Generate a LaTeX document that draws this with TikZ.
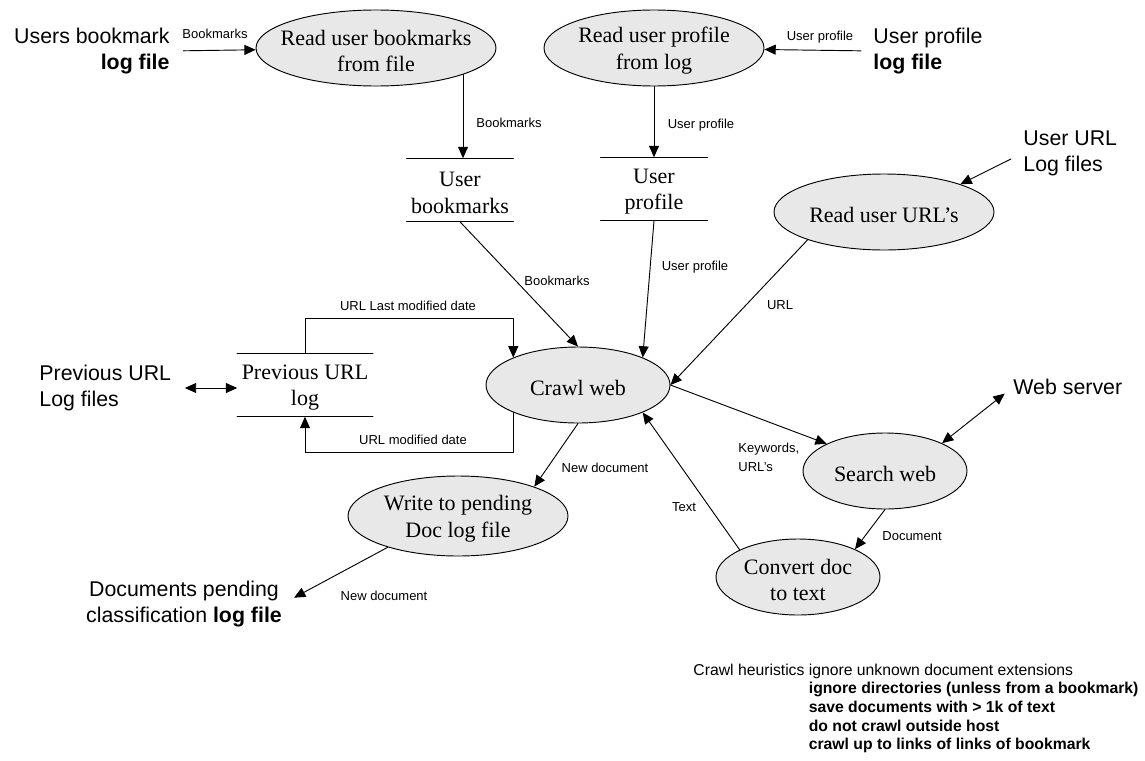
\documentclass[tikz,border=0pt]{standalone}
\usepackage{fontspec}
\setmainfont{Liberation Serif}
\setsansfont{Liberation Sans}
\usepackage{tikz}
\usetikzlibrary{arrows.meta,shapes.geometric}

\definecolor{procfill}{gray}{0.91}
\tikzset{
	proc/.style={ellipse, draw, fill=procfill, inner sep=0pt},
	proctext/.style={align=center, yshift=-2.2pt, font=\fontsize{16.5pt}{20pt}\selectfont},
	store/.style={rectangle, inner sep=0pt, align=center, minimum height=47pt, font=\fontsize{16.5pt}{20pt}\selectfont},
	storetext/.style={align=center, yshift=-2pt, font=\fontsize{16.5pt}{20pt}\selectfont},
	extfile/.style={inner sep=0pt, font=\sffamily\fontsize{16pt}{19.5pt}\selectfont},
	flowlbl/.style={inner sep=0pt, font=\sffamily\fontsize{9.75pt}{14.25pt}\selectfont},
}

\begin{document}
\begin{tikzpicture}[x=0.75pt, y=-0.75pt, >={Triangle[length=8.5pt,width=7.5pt]}, line width=0.7pt, line cap=round, line join=round]
	\useasboundingbox (0,0) rectangle (1145,760);
	
	% processes
	\node[proc, minimum width=180pt, minimum height=57pt, label={[proctext]center:Read user bookmarks\\from file}] (rbm) at (376,48) {};
	\node[proc, minimum width=165pt, minimum height=57pt, label={[proctext]center:Read user profile\\from log}] (rpr) at (654,48) {};
	\node[proc, minimum width=165pt, minimum height=57pt, label={[proctext]center:Read user URL’s}] (rurl) at (884,212) {};
	\node[proc, minimum width=138pt, minimum height=57pt, label={[proctext]center:Crawl web}] (crawl) at (578,385) {};
	\node[proc, minimum width=165pt, minimum height=60pt, label={[proctext]center:Write to pending\\Doc log file}] (write) at (458,516) {};
	\node[proc, minimum width=123pt, minimum height=57pt, label={[proctext]center:Search web}] (search) at (885,471) {};
	\node[proc, minimum width=123pt, minimum height=57pt, label={[proctext]center:Convert doc\\to text}] (convert) at (798,577) {};
	
	% data stores
	\node[store, minimum width=79.5pt, label={[storetext]center:User\\bookmarks}] (ubm) at (460,190) {};
	\node[store, minimum width=79.5pt, label={[storetext]center:User\\profile}] (upr) at (654,189) {};
	\node[store, minimum width=101pt, label={[storetext]center:Previous URL\\log}] (prev) at (305,385) {};
	\foreach \s in {ubm,upr,prev}
		\draw (\s.north west) -- (\s.north east) (\s.south west) -- (\s.south east);
	
	% outside files
	\node[extfile, anchor=east, align=right] (bmfile) at (170,51) {Users bookmark\\\textbf{log file}};
	\node[extfile, anchor=west, align=left] (prfile) at (873,51) {User profile\\\textbf{log file}};
	\node[extfile, anchor=west, align=left] (urlfile) at (1023,153) {User URL\\Log files};
	\node[extfile, anchor=west, align=left] (prevfile) at (39,388) {Previous URL\\Log files};
	\node[extfile, anchor=west] (websrv) at (1013,387) {Web server};
	\node[extfile, align=center] (docs) at (184,604) {Documents pending\\classification \textbf{log file}};
	
	% flows
	\draw[->, shorten <=10pt] (bmfile.east) -- (rbm);
	\draw[->, shorten <=9pt] (prfile.west) -- (rpr);
	\draw[->] (rbm.-17) -- (rbm.-17 |- ubm.north);
	\draw[->] (rpr) -- (upr);
	\draw[->] (ubm.south) -- (crawl.north);
	\draw[->] (upr.south) -- (crawl.23);
	\draw[->, shorten <=10pt] (urlfile.west) -- (rurl.20);
	\draw[->] (rurl.200) -- (crawl.east);
	\draw[->] (crawl.east) -- (search.155);
	\draw[<->, shorten >=8pt] (search.26) -- (websrv.west);
	\draw[->] (search.south) -- (convert.26);
	\draw[->] (convert.155) -- (crawl.-23);
	\draw[->] (crawl.south) -- (write.21);
	\draw[->, shorten >=10pt] (write.204) -- (docs.east);
	\draw[<->, shorten <=10pt] (prevfile.east) -- (prevfile.east -| prev.west);
	\draw[->] (prev.north) -- ++(0,-35) -| (crawl.157);
	\draw[->] (crawl.203) -- ++(0,40) -| (prev.south);
	
	% flow labels
	\node[flowlbl] (lbmin) at (215,34) {Bookmarks};
	\node[flowlbl] (lprin) at (820,37) {User profile};
	\node[flowlbl] (lbmdown) at (509,123) {Bookmarks};
	\node[flowlbl] (lprdown) at (701,125) {User profile};
	\node[flowlbl] (lbmcrawl) at (557,281) {Bookmarks};
	\node[flowlbl] (lprcrawl) at (695,267) {User profile};
	\node[flowlbl] (lurl) at (780,305) {URL};
	\node[flowlbl] (llast) at (408,306) {URL Last modified date};
	\node[flowlbl] (lmod) at (413,440) {URL modified date};
	\node[flowlbl] (lnewdoc) at (605,468) {New document};
	\node[flowlbl, anchor=west, align=left] (lkey) at (738,457) {Keywords,\\URL’s};
	\node[flowlbl] (ltext) at (684,507) {Text};
	\node[flowlbl] (ldoc) at (912,536) {Document};
	\node[flowlbl] (lnewdoc2) at (384,596) {New document};
	
	% heuristics note
	\node[anchor=base west, inner sep=0pt, font=\sffamily\fontsize{11.8pt}{14pt}\selectfont] (heur) at (693,675) {\begin{tabular}[t]{@{}l@{\ }l@{}}
		Crawl heuristics & ignore unknown document extensions\\
		& \textbf{ignore directories (unless from a bookmark)}\\
		& \textbf{save documents with > 1k of text}\\
		& \textbf{do not crawl outside host}\\
		& \textbf{crawl up to links of links of bookmark}
	\end{tabular}};
\end{tikzpicture}
\end{document}
